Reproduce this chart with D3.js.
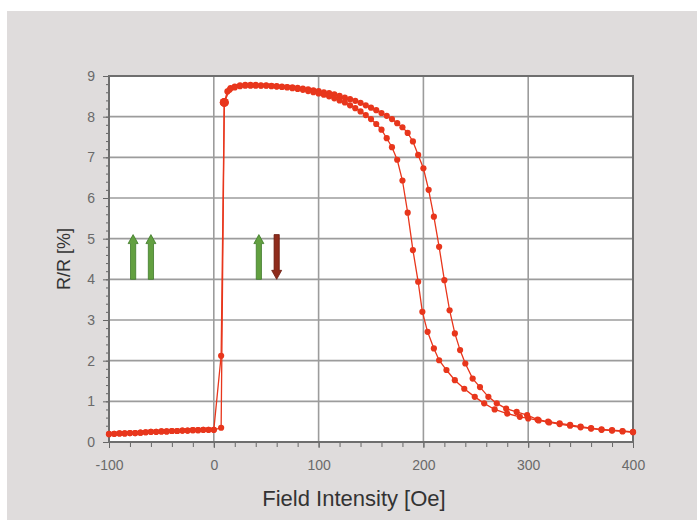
<!DOCTYPE html>
<html>
<head>
<meta charset="utf-8">
<script src="https://cdnjs.cloudflare.com/ajax/libs/d3/7.8.5/d3.min.js"></script>
<style>
  body { margin: 0; background: #ffffff; }
  text { font-family: "Liberation Sans", Arial, sans-serif; }
</style>
</head>
<body>
<div id="chart"></div>
<script>
// increasing field sweep (outer loop)
var upField = [-100,-95,-90,-85,-80,-75,-70,-65,-60,-55,-50,-45,-40,-35,-30,-25,-20,-15,-10,-5,0,
  7,10,13,16,20,25,30,35,40,45,50,55,60,65,70,75,80,85,90,95,100,105,110,115,120,125,130,135,140,145,150,
  155,160,165,170,175,180,185,190,195,200,205,210,215,220,225,230,235,240,247,254,262,270,279,289,299,
  309,319,330,340,350,360,370,380,390,400];
var upValue = [0.20,0.20,0.21,0.21,0.22,0.22,0.23,0.24,0.25,0.25,0.26,0.26,0.27,0.27,0.28,0.28,0.29,0.29,0.30,0.30,0.30,
  0.35,8.35,8.62,8.70,8.74,8.77,8.78,8.78,8.78,8.77,8.77,8.76,8.75,8.74,8.73,8.72,8.71,8.69,8.67,8.65,8.63,8.60,8.58,8.55,8.51,8.47,8.43,8.39,8.34,8.28,8.22,
  8.16,8.09,8.02,7.94,7.84,7.74,7.60,7.39,7.06,6.73,6.20,5.54,4.80,3.98,3.24,2.67,2.26,1.93,1.56,1.35,1.11,0.95,0.82,0.74,0.66,
  0.55,0.50,0.46,0.42,0.38,0.34,0.31,0.29,0.27,0.25];

// decreasing field sweep (inner loop)
var downField = [400,390,380,370,360,350,340,330,320,310,300,292,280,268,258,249,239,230,222,215,210,204,199,195,190,185,180,
  175,170,165,160,155,150,145,140,135,130,125,120,115,110,105,100,95,90,85,80,75,70,65,60,55,50,45,40,35,30,25,20,15,10,
  7,0,-5,-10,-15,-20,-25,-30,-35,-40,-45,-50,-55,-60,-65,-70,-75,-80,-85,-90,-95,-100];
var downValue = [0.24,0.26,0.28,0.30,0.33,0.36,0.40,0.44,0.48,0.53,0.58,0.62,0.70,0.80,0.95,1.11,1.31,1.52,1.77,2.01,2.30,2.71,3.20,3.94,4.72,5.64,6.43,
  6.94,7.25,7.47,7.68,7.82,7.94,8.04,8.13,8.21,8.28,8.35,8.40,8.45,8.50,8.54,8.57,8.60,8.63,8.66,8.68,8.70,8.72,8.73,8.74,8.75,8.76,8.76,8.76,8.76,8.76,8.75,8.72,8.66,8.35,
  2.12,0.30,0.30,0.30,0.29,0.29,0.28,0.28,0.27,0.27,0.26,0.26,0.25,0.25,0.24,0.23,0.22,0.22,0.21,0.21,0.20,0.19];

var xTicks = [-100, 0, 100, 200, 300, 400];
var yTicks = [0, 1, 2, 3, 4, 5, 6, 7, 8, 9];

// magnetisation arrows (free layer / pinned layer)
var arrowField = [-77, -60, 43, 60];
var arrowDir = ["up", "up", "up", "down"];
var arrowLow = 4.0, arrowHigh = 5.1;

(function () {

  var margin = { top: 76, left: 109, right: 64, bottom: 78 },
      height = 520 - margin.top - margin.bottom,
      width = 697 - margin.left - margin.right;

  var root = d3.select("#chart")
      .append("svg")
      .attr("width", 697)
      .attr("height", 520);

  // grey page behind the chart
  root.append("rect")
    .attr("x", 7).attr("y", 11)
    .attr("width", 690).attr("height", 509)
    .attr("fill", "#dfdcdc");

  var svg = root.append("g")
    .attr("transform", "translate(" + margin.left + "," + margin.top + ")");

  var xPositionScale = d3.scaleLinear()
    .domain([-100, 400])
    .range([0, width]);

  var yPositionScale = d3.scaleLinear()
    .domain([0, 9])
    .range([height, 0]);

  svg.append("rect")
    .attr("width", width)
    .attr("height", height)
    .attr("fill", "#ffffff");

  // grid
  svg.selectAll(".hgrid")
    .data(yTicks.slice(1, -1))
    .enter().append("line")
    .attr("class", "hgrid")
    .attr("x1", 0).attr("x2", width)
    .attr("y1", function (d) { return yPositionScale(d) })
    .attr("y2", function (d) { return yPositionScale(d) })
    .attr("stroke", "#9c9c9c")
    .attr("stroke-width", 1.6);

  svg.selectAll(".vgrid")
    .data(xTicks.slice(1, -1))
    .enter().append("line")
    .attr("class", "vgrid")
    .attr("y1", 0).attr("y2", height)
    .attr("x1", function (d) { return xPositionScale(d) })
    .attr("x2", function (d) { return xPositionScale(d) })
    .attr("stroke", "#9c9c9c")
    .attr("stroke-width", 1.6);

  // axes: minor ticks first, then labelled ones
  var xMinor = d3.axisBottom(xPositionScale)
    .tickValues(d3.range(-100, 401, 20))
    .tickSize(5)
    .tickFormat("");
  svg.append("g")
    .attr("class", "axis x-minor")
    .attr("transform", "translate(0," + height + ")")
    .call(xMinor);

  var yMinor = d3.axisLeft(yPositionScale)
    .tickValues(d3.range(0, 9.01, 0.2))
    .tickSize(3)
    .tickFormat("");
  svg.append("g")
    .attr("class", "axis y-minor")
    .call(yMinor);

  // plain hyphen for negatives, like the original
  var xAxis = d3.axisBottom(xPositionScale)
    .tickValues(xTicks)
    .tickSize(6)
    .tickPadding(12)
    .tickFormat(function (d) { return String(d) });
  svg.append("g")
    .attr("class", "axis x-axis")
    .attr("transform", "translate(0," + height + ")")
    .call(xAxis);

  var yAxis = d3.axisLeft(yPositionScale)
    .tickValues(yTicks)
    .tickSize(6)
    .tickPadding(8);
  svg.append("g")
    .attr("class", "axis y-axis")
    .call(yAxis);

  svg.selectAll(".axis .domain").remove();
  svg.selectAll(".axis line").attr("stroke", "#666");
  svg.selectAll(".axis text")
    .attr("fill", "#6a6a6a")
    .style("font-size", "14px");

  // frame
  svg.append("rect")
    .attr("width", width)
    .attr("height", height)
    .attr("fill", "none")
    .attr("stroke", "#6e6e6e")
    .attr("stroke-width", 2);

  var red = "#e8361c";

  var line = d3.line()
    .x(function (d) { return xPositionScale(d[0]) })
    .y(function (d) { return yPositionScale(d[1]) });

  var up = d3.zip(upField, upValue);
  var down = d3.zip(downField, downValue);

  [up, down].forEach(function (series) {
    svg.append("path")
      .datum(series)
      .attr("d", line)
      .attr("fill", "none")
      .attr("stroke", red)
      .attr("stroke-width", 1.3);

    svg.selectAll(null)
      .data(series)
      .enter().append("circle")
      .attr("cx", function (d) { return xPositionScale(d[0]) })
      .attr("cy", function (d) { return yPositionScale(d[1]) })
      .attr("r", function (d) { return d[0] === 10 ? 4.5 : 3.1 })
      .attr("fill", red);
  });

  // arrows
  var shaft = 2.6, headW = 5, headL = 9;
  svg.selectAll(".arrow")
    .data(arrowField)
    .enter().append("path")
    .attr("class", "arrow")
    .attr("d", function (d, i) {
      var x = xPositionScale(d);
      var lo = yPositionScale(arrowLow), hi = yPositionScale(arrowHigh);
      if (arrowDir[i] === "up") {
        return "M" + (x - shaft) + "," + lo + "L" + (x - shaft) + "," + (hi + headL) +
          "L" + (x - headW) + "," + (hi + headL) + "L" + x + "," + hi +
          "L" + (x + headW) + "," + (hi + headL) + "L" + (x + shaft) + "," + (hi + headL) +
          "L" + (x + shaft) + "," + lo + "Z";
      }
      return "M" + (x - shaft) + "," + hi + "L" + (x - shaft) + "," + (lo - headL) +
        "L" + (x - headW) + "," + (lo - headL) + "L" + x + "," + lo +
        "L" + (x + headW) + "," + (lo - headL) + "L" + (x + shaft) + "," + (lo - headL) +
        "L" + (x + shaft) + "," + hi + "Z";
    })
    .attr("fill", function (d, i) { return arrowDir[i] === "up" ? "#62a040" : "#8f2c1c" })
    .attr("stroke", function (d, i) { return arrowDir[i] === "up" ? "#3f7a2a" : "#6a1c10" })
    .attr("stroke-width", 0.8);

  // titles
  root.append("text")
    .attr("x", 354)
    .attr("y", 506)
    .attr("text-anchor", "middle")
    .attr("fill", "#333")
    .style("font-size", "22px")
    .text("Field Intensity [Oe]");

  root.append("text")
    .attr("transform", "translate(70,259) rotate(-90)")
    .attr("text-anchor", "middle")
    .attr("fill", "#333")
    .style("font-size", "18px")
    .text("R/R [%]");

})()
</script>
</body>
</html>
